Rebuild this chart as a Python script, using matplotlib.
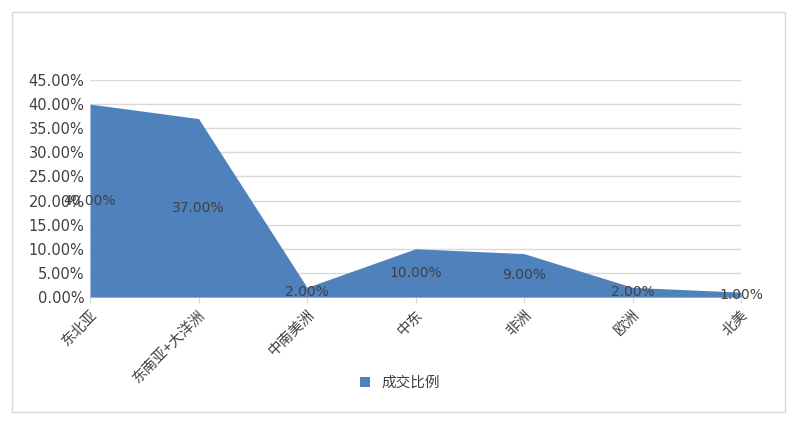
import matplotlib.pyplot as plt
from matplotlib.patches import Rectangle

plt.rcParams['font.family'] = ['Noto Sans CJK SC', 'DejaVu Sans']

regions = ['东北亚', '东南亚+大洋洲', '中南美洲', '中东', '非洲', '欧洲', '北美']
share = [40, 37, 2, 10, 9, 2, 1]
yticks = [0, 5, 10, 15, 20, 25, 30, 35, 40, 45]

fig = plt.figure(figsize=(8, 4.25), dpi=100)
fig.patches.append(Rectangle((12 / 800, 1 - 412 / 425), 773 / 800, 400 / 425,
                             transform=fig.transFigure, fill=False,
                             edgecolor='#d9d9d9', lw=1))
ax = fig.add_axes([90 / 800, 1 - 297 / 425, 651 / 800, 217 / 425])

x = list(range(len(regions)))
ax.fill_between(x, share, 0, color='#4f81bd', lw=0, zorder=3, label='成交比例')
for xi, v in zip(x, share):
    ax.text(xi, v / 2, f'{v:.2f}%', ha='center', va='center', fontsize=10,
            color='#404040', zorder=4, family=['DejaVu Sans'])

ax.set_xlim(0, len(regions) - 1)
ax.set_ylim(0, 45)
ax.set_yticks(yticks)
ax.set_yticklabels([f'{t:.2f}%' for t in yticks], fontsize=10.5, color='#404040',
                   family=['DejaVu Sans'])
ax.grid(axis='y', color='#d9d9d9', lw=1, zorder=0)
ax.set_xticks(x)
ax.set_xticklabels(regions, rotation=45, ha='right', rotation_mode='anchor',
                   fontsize=10.5, color='#404040')
ax.tick_params(axis='y', length=0, pad=4)
ax.tick_params(axis='x', length=4, color='#d9d9d9')
for s in ['top', 'right', 'left']:
    ax.spines[s].set_visible(False)
ax.spines['bottom'].set_color('#d9d9d9')

fig.legend(loc='center', bbox_to_anchor=(0.5, 1 - 383 / 425), frameon=False,
           fontsize=10.5, handlelength=0.7, handleheight=0.7, labelcolor='#404040')

fig.savefig('out.png')
